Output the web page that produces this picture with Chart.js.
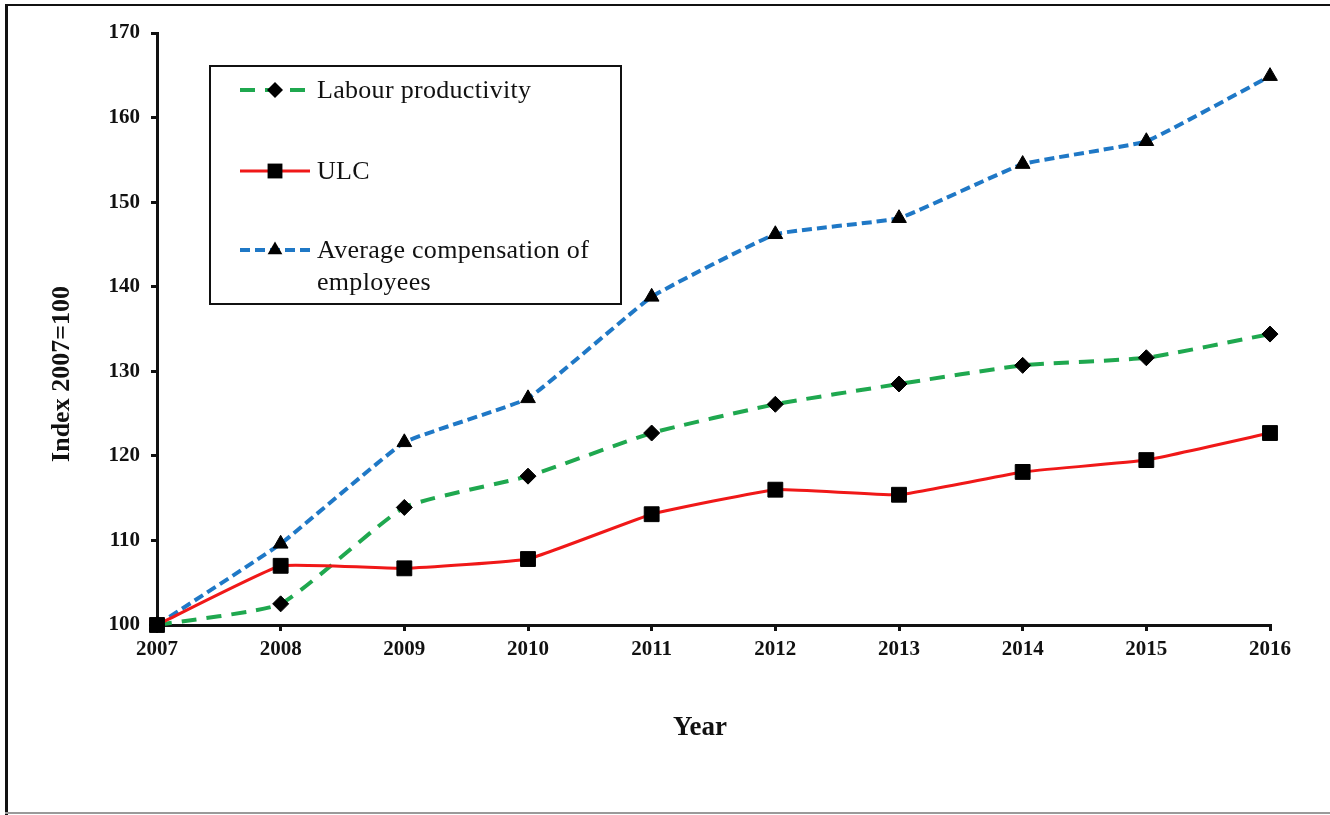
<!DOCTYPE html>
<html>
<head>
<meta charset="utf-8">
<script src="https://cdn.jsdelivr.net/npm/chart.js@4.4.1/dist/chart.umd.min.js"></script>
<style>
  html, body { margin: 0; padding: 0; background: #fff; }
  canvas { display: block; }
</style>
</head>
<body>
<canvas id="chart" width="1330" height="815"></canvas>
<script>
const years = ['2007', '2008', '2009', '2010', '2011', '2012', '2013', '2014', '2015', '2016'];
const labourProductivity = [100, 102.5, 113.9, 117.6, 122.7, 126.1, 128.5, 130.7, 131.6, 134.4];
const ulc = [100, 107.0, 106.7, 107.8, 113.1, 116.0, 115.4, 118.1, 119.5, 122.7];
const avgCompensation = [100, 109.6, 121.6, 126.8, 138.8, 146.2, 148.1, 154.5, 157.2, 164.9];
const yMin = 100, yMax = 170, yStep = 10;

const serif = '"Liberation Serif", "Times New Roman", serif';

function drawMarker(ctx, style, x, y, r) {
  ctx.beginPath();
  if (style === 'rectRot') {
    ctx.moveTo(x - r, y); ctx.lineTo(x, y - r); ctx.lineTo(x + r, y); ctx.lineTo(x, y + r);
  } else if (style === 'rect') {
    const s = r * Math.SQRT1_2;
    ctx.rect(x - s, y - s, 2 * s, 2 * s);
  } else {
    ctx.moveTo(x, y - r);
    ctx.lineTo(x + r * Math.sin(2 * Math.PI / 3), y + r * 0.5);
    ctx.lineTo(x - r * Math.sin(2 * Math.PI / 3), y + r * 0.5);
  }
  ctx.closePath();
  ctx.fillStyle = '#000';
  ctx.fill();
}

// frame, axis titles and the boxed legend
const extras = {
  id: 'extras',
  beforeDraw(chart) {
    const c = chart.ctx;
    c.save();
    c.fillStyle = '#fff';
    c.fillRect(0, 0, chart.width, chart.height);
    c.strokeStyle = '#111';
    c.lineWidth = 3;
    c.beginPath(); c.moveTo(6.5, 4); c.lineTo(6.5, chart.height); c.stroke();
    c.lineWidth = 2;
    c.beginPath(); c.moveTo(5, 5); c.lineTo(chart.width, 5); c.stroke();
    c.strokeStyle = '#9a9a9a';
    c.beginPath(); c.moveTo(5, chart.height - 2); c.lineTo(chart.width, chart.height - 2); c.stroke();
    c.restore();
  },
  afterDraw(chart) {
    const c = chart.ctx;
    const a = chart.chartArea;
    c.save();
    c.fillStyle = '#111';
    c.textAlign = 'center';
    c.textBaseline = 'middle';
    c.font = 'bold 27px ' + serif;
    c.fillText('Year', a.left + 543, a.bottom + 103);
    c.font = 'bold 26px ' + serif;
    c.translate(62, a.top + 341);
    c.rotate(-Math.PI / 2);
    c.fillText('Index 2007=100', 0, 0);
    c.restore();

    // legend
    const bx = a.left + 53, by = a.top + 33, bw = 411, bh = 238;
    c.save();
    c.strokeStyle = '#111';
    c.lineWidth = 2;
    c.strokeRect(bx, by, bw, bh);
    const rows = [
      { ds: 0, y: 24, text: ['Labour productivity'] },
      { ds: 1, y: 105, text: ['ULC'] },
      { ds: 2, y: 184, text: ['Average compensation of', 'employees'] }
    ];
    rows.forEach(r => {
      const d = chart.data.datasets[r.ds];
      const yy = by + r.y;
      c.strokeStyle = d.borderColor;
      c.lineWidth = d.borderWidth;
      c.setLineDash(d.borderDash || []);
      c.beginPath(); c.moveTo(bx + 30, yy); c.lineTo(bx + 100, yy); c.stroke();
      c.setLineDash([]);
      drawMarker(c, d.pointStyle, bx + 65, yy, d.pointRadius);
      c.fillStyle = '#111';
      c.font = '26px ' + serif;
      c.letterSpacing = '0.3px';
      c.textAlign = 'left';
      c.textBaseline = 'middle';
      r.text.forEach((t, i) => c.fillText(t, bx + 107, yy + 1 + i * 32));
    });
    c.restore();
  }
};

new Chart(document.getElementById('chart').getContext('2d'), {
  type: 'line',
  data: {
    labels: years,
    datasets: [
      {
        label: 'Labour productivity',
        data: labourProductivity,
        borderColor: '#1fa84f',
        borderWidth: 4,
        borderDash: [15, 10],
        pointStyle: 'rectRot',
        pointRadius: 8,
        pointBackgroundColor: '#000',
        pointBorderColor: '#000',
        pointBorderWidth: 1,
        tension: 0.15,
        clip: false,
        order: 1
      },
      {
        label: 'ULC',
        data: ulc,
        borderColor: '#f01818',
        borderWidth: 3,
        pointStyle: 'rect',
        pointRadius: 10.5,
        pointBackgroundColor: '#000',
        pointBorderColor: '#000',
        pointBorderWidth: 1,
        tension: 0.1,
        clip: false,
        order: 0
      },
      {
        label: 'Average compensation of employees',
        data: avgCompensation,
        borderColor: '#1f78c6',
        borderWidth: 4,
        borderDash: [10, 5],
        pointStyle: 'triangle',
        pointRadius: 8.5,
        pointBackgroundColor: '#000',
        pointBorderColor: '#000',
        pointBorderWidth: 1,
        tension: 0.1,
        clip: false,
        order: 2
      }
    ]
  },
  options: {
    responsive: false,
    animation: false,
    layout: { padding: { left: 97, right: 60, top: 33, bottom: 150 } },
    plugins: { legend: { display: false }, tooltip: { enabled: false } },
    scales: {
      x: {
        offset: false,
        afterFit: s => { s.height = 40; },
        border: { display: true, color: '#111', width: 3 },
        grid: { display: true, drawOnChartArea: false, drawTicks: true, tickLength: 6, color: '#111', lineWidth: 3 },
        ticks: { color: '#111', padding: 6, maxRotation: 0, font: { family: serif, size: 21, weight: 'bold' } }
      },
      y: {
        min: yMin,
        max: yMax,
        afterFit: s => { s.width = 60; },
        border: { display: true, color: '#111', width: 3 },
        grid: { display: true, drawOnChartArea: false, drawTicks: true, tickLength: 6, color: '#111', lineWidth: 3 },
        ticks: { stepSize: yStep, color: '#111', padding: 11, font: { family: serif, size: 21, weight: 'bold' } }
      }
    }
  },
  plugins: [extras]
});
</script>
</body>
</html>
